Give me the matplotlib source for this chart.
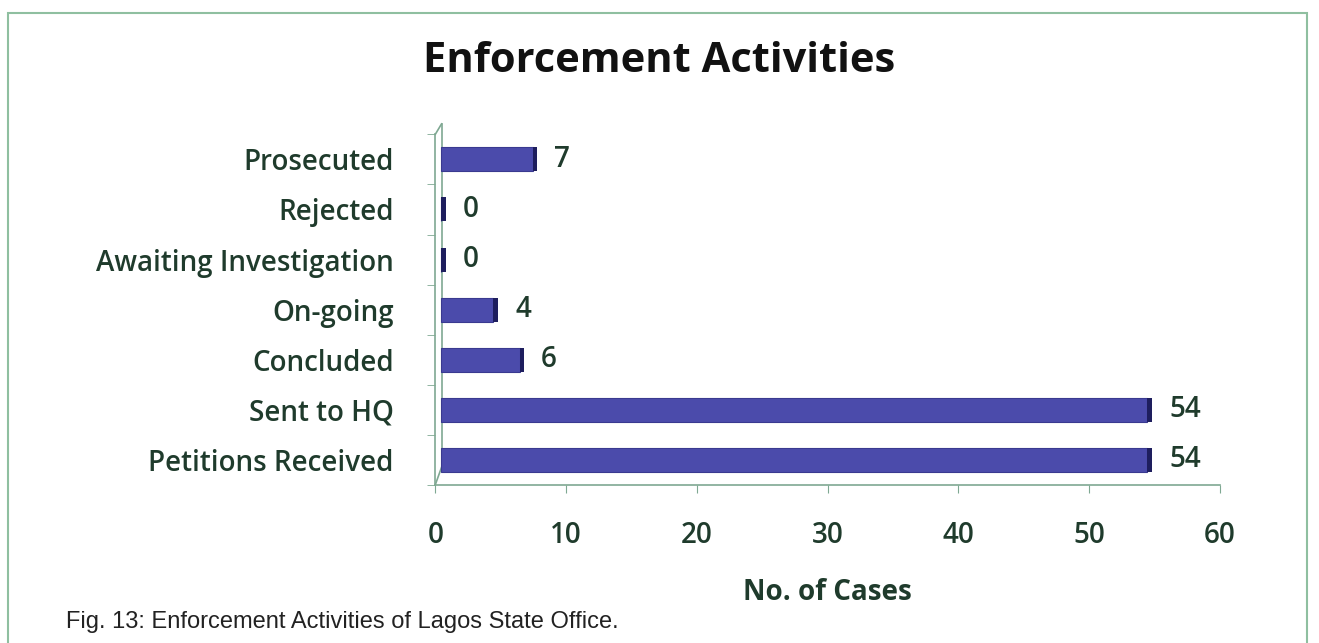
import matplotlib
matplotlib.use("Agg")
import matplotlib.pyplot as plt
from matplotlib.patches import Rectangle

categories = ["Petitions Received", "Sent to HQ", "Concluded", "On-going",
              "Awaiting Investigation", "Rejected", "Prosecuted"]
cases = [54, 54, 6, 4, 0, 0, 7]
xticks = [0, 10, 20, 30, 40, 50, 60]

txt = "#1f3b2c"
line = "#7fa892"
plt.rcParams["font.family"] = ["Open Sans", "DejaVu Sans"]
fs = 20
fw = 600

fig = plt.figure(figsize=(13.19, 6.43), dpi=100)
ax = fig.add_axes([0.33, 0.246, 0.595, 0.545])

ypos = list(range(len(categories)))
# bar body
ax.barh(ypos, cases, height=0.48, left=0.45, color="#4b4bab", edgecolor="#3a3a90", linewidth=0.8, zorder=3)
# dark end face for the 3d look
ends = [v + 0.45 for v in cases]
ax.barh(ypos, [0.35] * len(cases), height=0.48, left=ends, color="#1e1e5e", linewidth=0, zorder=4)

for y, v in zip(ypos, cases):
    ax.text(v + 2.1, y, str(v), va="center", ha="left", fontsize=fs, fontweight=fw, color=txt)

ax.set_xlim(0, 60)
ax.set_ylim(-0.5, 6.5)
ax.set_xticks(xticks)
ax.set_xticklabels([str(t) for t in xticks], fontsize=fs, fontweight=fw, color=txt)
ax.set_yticks(ypos)
ax.set_yticklabels(categories, fontsize=fs, fontweight=fw, color=txt)
ax.set_yticks([i - 0.5 for i in range(len(categories) + 1)], minor=True)
ax.tick_params(axis="y", which="major", length=0, pad=30)
ax.tick_params(axis="y", which="minor", length=6, color=line, direction="out")
ax.tick_params(axis="x", length=6, color=line, direction="out", pad=20)

for s in ["top", "right"]:
    ax.spines[s].set_visible(False)
for s in ["left", "bottom"]:
    ax.spines[s].set_color(line)
    ax.spines[s].set_linewidth(1.2)

# back wall of the 3d frame
ax.plot([0.008, 0.008], [0.05, 1.03], transform=ax.transAxes, color=line, lw=1.2, clip_on=False)
ax.plot([0.0, 0.008], [0.0, 0.05], transform=ax.transAxes, color=line, lw=1.2, clip_on=False)
ax.plot([0.0, 0.008], [1.0, 1.03], transform=ax.transAxes, color=line, lw=1.2, clip_on=False)

ax.set_xlabel("No. of Cases", fontsize=fs, fontweight="bold", color=txt, labelpad=20)
fig.text(0.5, 0.905, "Enforcement Activities", ha="center", va="center",
         fontsize=30, fontweight="bold", color="#111111")
fig.text(0.05, 0.033, "Fig. 13: Enforcement Activities of Lagos State Office.",
         fontsize=17, color="#222222", family=["Liberation Sans", "DejaVu Sans"], va="center")

fig.patches.append(Rectangle((0.006, -0.1), 0.985, 1.08, transform=fig.transFigure,
                             fill=False, edgecolor="#8fbfa0", linewidth=1.5))

fig.savefig("out.png", dpi=100)
